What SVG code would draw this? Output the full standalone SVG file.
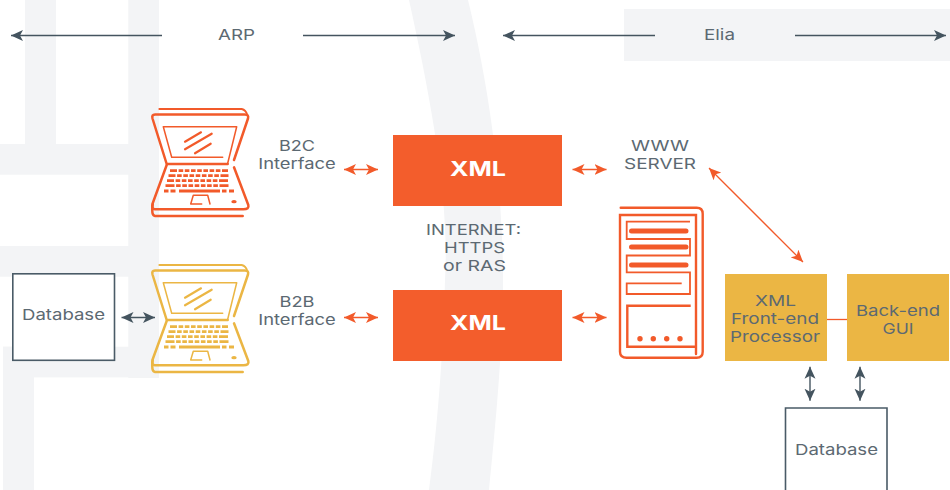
<svg xmlns="http://www.w3.org/2000/svg" width="950" height="490" viewBox="0 0 950 490">
<style>
text{font-family:"Inter","Liberation Sans",sans-serif;font-size:15px;fill:#5c6972;text-anchor:middle}
.bg{fill:#f3f4f6}
.xml{fill:#f35d2c}
.gold{fill:#ebb644}
.w{fill:#fff;font-weight:700;font-size:20px}
.db{fill:#fff;stroke:#4a5b67;stroke-width:1.6}
.d{stroke:#44545f;stroke-width:1.4;fill:none}
.o{stroke:#f25a2a;stroke-width:1.3;fill:none}
.line{stroke-linecap:round;stroke-linejoin:round;fill:none;stroke:currentColor}
.keys{fill:none;stroke:currentColor;stroke-width:2.8}
</style>
<defs>
<marker id="ad" viewBox="0 0 12 12" refX="12" refY="6" markerWidth="12" markerHeight="12" markerUnits="userSpaceOnUse" orient="auto-start-reverse"><path d="M0 .5L12 6L0 11.5L3 6Z" fill="#44545f"/></marker>
<marker id="ao" viewBox="0 0 12 12" refX="12" refY="6" markerWidth="12" markerHeight="12" markerUnits="userSpaceOnUse" orient="auto-start-reverse"><path d="M0 .5L12 6L0 11.5L3 6Z" fill="#f25a2a"/></marker>
<g id="laptop">
<path class="line" stroke-width="1.800" d="M159.300 109H241.700Q246 110 247.300 115"/>
<path class="line" stroke-width="2.500" d="M234 160L248 118.500Q249 114.500 245 114.500H155Q151.500 114.500 152.500 118.500L166.700 164H227.700"/>
<path class="line" stroke-width="1.500" d="M222.700 157.300H171.700L163.300 126.700H236.700L227.700 163.300"/>
<path class="line" stroke-width="2.200" d="M201 132.300L185 141.700M211.700 133.700L185 149.300M210.700 143.700L195 153.300"/>
<path class="line" stroke-width="2.500" d="M166.700 165L152.700 203.300Q151 209.300 155 209.300H243.300Q249.500 209.300 248.300 205L234 167.300"/>
<path class="line" stroke-width="2.500" d="M152.700 204Q151 215.500 155 216H242.700"/>
<path class="line" stroke-width="1.500" d="M190.700 204L193.300 195.300H207.700L210 204M190.700 204H201.700"/>
<g class="keys">
<path stroke-dasharray="7 1.600 4.600 1.600 4.600 1.600 4.600 1.600 4.600 1.600 4.600 1.600 4.600 1.600 4.600 1.600 6" d="M170 170.700H228"/>
<path stroke-dasharray="7 1.600 4.600 1.600 4.600 1.600 4.600 1.600 4.600 1.600 4.600 1.600 4.600 1.600 4.600 1.600 8" d="M168.500 175.700H229.500"/>
<path stroke-dasharray="7 1.600 4.600 1.600 4.600 1.600 4.600 1.600 4.600 1.600 4.600 1.600 4.600 1.600 4.600 1.600 9" d="M167 180.700H231"/>
<path stroke-dasharray="9 1.600 4.600 1.600 4.600 1.600 4.600 1.600 4.600 1.600 4.600 1.600 4.600 1.600 4.600 1.600 9" d="M165.500 185.700H232.500"/>
<path d="M164 191H168.500M170.500 191H175.500M179 191H220M222 191H226.500M229 191H234"/>
</g>
<ellipse cx="234" cy="201.700" rx="2.700" ry="1.600" fill="currentColor"/>
</g>
</defs>
<g id="background" class="bg">
<rect x="25" y="0" width="31" height="144"/>
<rect x="128.300" y="0" width="30.700" height="378"/>
<rect x="0" y="144" width="159" height="30.700"/>
<rect x="0" y="246" width="159" height="30.700"/>
<rect x="3" y="346.700" width="156" height="30.700"/>
<rect x="3" y="346.700" width="31" height="143.300"/>
<path d="M409 0C430 95 450 200 445 280C443 360 437 430 429 490H489C495 430 503 350 503 280C503 190 490 90 468 0Z"/>
<rect x="624" y="9" width="326" height="52"/>
</g>
<g id="connectors">
<path class="d" marker-end="url(#ad)" d="M162 35.500H11"/>
<path class="d" marker-end="url(#ad)" d="M303 35.500H455"/>
<path class="d" marker-end="url(#ad)" d="M655 35.500H503"/>
<path class="d" marker-end="url(#ad)" d="M795 35.500H946"/>
<path class="d" marker-start="url(#ad)" marker-end="url(#ad)" d="M121.500 317.500H155"/>
<path class="o" marker-start="url(#ao)" marker-end="url(#ao)" d="M344 169.500H378"/>
<path class="o" marker-start="url(#ao)" marker-end="url(#ao)" d="M344 317.500H378"/>
<path class="o" marker-start="url(#ao)" marker-end="url(#ao)" d="M572.500 169.500H606.500"/>
<path class="o" marker-start="url(#ao)" marker-end="url(#ao)" d="M572.500 317.500H606.500"/>
<path class="o" marker-start="url(#ao)" marker-end="url(#ao)" d="M709 168L803 262"/>
<path class="o" d="M827 319.500H847"/>
<path class="d" marker-start="url(#ad)" marker-end="url(#ad)" d="M810 366.700V400.700"/>
<path class="d" marker-start="url(#ad)" marker-end="url(#ad)" d="M860 366.700V400.700"/>
</g>
<g id="label-arp"><text x="236.500" y="40" textLength="37" lengthAdjust="spacingAndGlyphs">ARP</text></g>
<g id="label-elia"><text x="719.500" y="40" textLength="31" lengthAdjust="spacingAndGlyphs">Elia</text></g>
<g id="laptop-b2c" color="#f25a2a"><use href="#laptop"/></g>
<g id="laptop-b2b" color="#ebb644"><use href="#laptop" y="156"/></g>
<g id="label-b2c"><text x="297" y="151" textLength="36" lengthAdjust="spacingAndGlyphs">B2C</text><text x="297" y="169" textLength="77.500" lengthAdjust="spacingAndGlyphs">Interface</text></g>
<g id="label-b2b"><text x="297" y="307" textLength="35" lengthAdjust="spacingAndGlyphs">B2B</text><text x="297" y="325" textLength="77.500" lengthAdjust="spacingAndGlyphs">Interface</text></g>
<g id="xml-top"><rect class="xml" x="393" y="135" width="169" height="71"/><text class="w" x="478" y="176" textLength="56" lengthAdjust="spacingAndGlyphs">XML</text></g>
<g id="xml-bottom"><rect class="xml" x="393" y="290" width="169" height="71"/><text class="w" x="478" y="330" textLength="56" lengthAdjust="spacingAndGlyphs">XML</text></g>
<g id="label-internet"><text x="473.500" y="235" textLength="95" lengthAdjust="spacingAndGlyphs">INTERNET:</text><text x="474.500" y="253" textLength="61" lengthAdjust="spacingAndGlyphs">HTTPS</text><text x="474.500" y="271" textLength="63" lengthAdjust="spacingAndGlyphs">or RAS</text></g>
<g id="label-www"><text x="660" y="151" textLength="58" lengthAdjust="spacingAndGlyphs">WWW</text><text x="660" y="169" textLength="72" lengthAdjust="spacingAndGlyphs">SERVER</text></g>
<g id="database-left"><rect class="db" x="12.800" y="273.800" width="101.700" height="86.500"/><text x="63.500" y="320" textLength="83" lengthAdjust="spacingAndGlyphs">Database</text></g>
<g id="server" fill="none" stroke="#f25a2a" stroke-width="2.400">
<path stroke-linecap="round" d="M620.700 207.700H696.700Q702.700 207.700 702.700 213.700V351.700Q702.700 357.700 696.700 357.700H626.700Q620 357.700 620 351.700V215H696V354"/>
<path stroke-width="1.800" d="M690 221.700H626.700V239H690V255.500H626.700V272.300H690V294H626.700V283.300H681.700"/>
<path stroke-width="5" stroke-linecap="round" d="M631.500 231H686M631.500 247H686M631.500 265H686"/>
<path d="M690.700 305.700H627.300V346.700H696"/>
<g fill="#f25a2a" stroke="none"><circle cx="640" cy="338.700" r="2.700"/><circle cx="653.300" cy="338.700" r="2.700"/><circle cx="666.700" cy="338.700" r="2.700"/><circle cx="680" cy="338.700" r="2.700"/></g>
</g>
<g id="front-end"><rect class="gold" x="725" y="274" width="102" height="87"/><text x="775.500" y="306" textLength="41" lengthAdjust="spacingAndGlyphs">XML</text><text x="775" y="324" textLength="88" lengthAdjust="spacingAndGlyphs">Front-end</text><text x="775" y="342" textLength="90" lengthAdjust="spacingAndGlyphs">Processor</text></g>
<g id="back-end"><rect class="gold" x="847" y="274" width="102" height="87"/><text x="898" y="316" textLength="84" lengthAdjust="spacingAndGlyphs">Back-end</text><text x="898" y="334" textLength="31" lengthAdjust="spacingAndGlyphs">GUI</text></g>
<g id="database-bottom"><path class="db" d="M785.500 491V408H887V491"/><text x="836.500" y="455" textLength="83" lengthAdjust="spacingAndGlyphs">Database</text></g>
</svg>
